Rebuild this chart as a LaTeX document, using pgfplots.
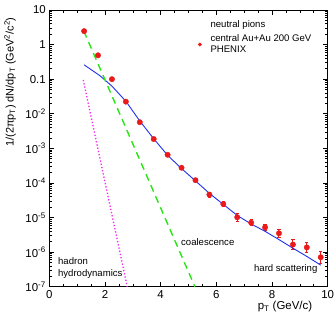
\documentclass[border=0pt]{standalone}
\usepackage{fontspec}
\setmainfont{Liberation Sans}
\usepackage{pgfplots}
\pgfplotsset{compat=1.18}
\definecolor{ptred}{RGB}{235,25,25}
\definecolor{hsblue}{RGB}{30,50,235}
\definecolor{coalgreen}{RGB}{40,230,20}
\definecolor{hydromag}{RGB}{240,40,240}
\newcommand{\anno}{\fontsize{9.6}{11.5}\selectfont}

\begin{document}
\begin{tikzpicture}
\useasboundingbox (0,0) rectangle (335bp,325bp);
\begin{axis}[at={(49.3bp,38.3bp)},anchor=south west,scale only axis,
  width=278.4bp,height=276.7bp,ymode=log,xmin=0,xmax=10,ymin=1e-7,ymax=10,
  axis line style={line width=0.8bp},tick style={black,line width=0.6bp},
  tick align=inside,xtick pos=both,ytick pos=both,
  major tick length=5bp,minor tick length=2.8bp,
  xtick={0,2,4,6,8,10},minor x tick num=3,
  ytick={1e-7,1e-6,1e-5,1e-4,1e-3,1e-2,0.1,1,10},
  yticklabels={10\textsuperscript{-7},10\textsuperscript{-6},10\textsuperscript{-5},10\textsuperscript{-4},10\textsuperscript{-3},10\textsuperscript{-2},0.1,1,10},
  /pgf/number format/assume math mode=true,
  ticklabel style={font=\fontsize{11.5}{13}\selectfont},
  legend style={at={(rel axis cs:0.506,0.975)},anchor=north west,draw=none,fill=none,
    font=\anno,cells={anchor=west,align=left},row sep=2bp,column sep=7bp,inner sep=1bp},
  legend image post style={mark size=1.7bp},
  legend cell align=left]
\addlegendimage{empty legend}
\addlegendentry{neutral pions}
% PHENIX data points
\addplot[only marks,mark=*,mark size=2.7bp,color=ptred,
  error bars/.cd,y dir=both,y explicit,
  error bar style={line width=1bp,ptred},
  error mark options={rotate=90,mark size=1.6bp,line width=1bp,ptred}]
  coordinates {
  (1.25,2.45) +- (0,0)
  (1.75,0.49) +- (0,0)
  (2.25,0.100) +- (0,0)
  (2.75,0.0224) +- (0,0)
  (3.25,0.0057) +- (0,0)
  (3.75,0.00186) +- (0,0)
  (4.25,6.5e-4) +- (0,0)
  (4.75,2.75e-4) +- (0,0)
  (5.25,1.2e-4) +- (0,0)
  (5.75,4.6e-5) += (0,8.3e-6) -= (0,7.0e-6)
  (6.25,2.45e-5) += (0,4.4e-6) -= (0,3.7e-6)
  (6.75,1.02e-5) += (0,3.1e-6) -= (0,2.4e-6)
  (7.25,7.1e-6) += (0,1.6e-6) -= (0,1.3e-6)
  (7.75,5.2e-6) += (0,1.1e-6) -= (0,0.94e-6)
  (8.25,3.5e-6) += (0,1.05e-6) -= (0,0.81e-6)
  (8.75,1.65e-6) += (0,0.64e-6) -= (0,0.46e-6)
  (9.25,1.37e-6) += (0,0.53e-6) -= (0,0.38e-6)
  (9.75,7.1e-7) += (0,3.5e-7) -= (0,2.3e-7)
  };
\addlegendentry{central Au+Au 200 GeV\\PHENIX}
% hard scattering
\addplot[forget plot,hsblue,line width=0.9bp] coordinates {
  (1.25,0.26)(1.82,0.126)(2.25,0.063)(2.75,0.023)(3.25,0.0062)(3.75,0.0019)
  (4.25,6.3e-4)(4.75,2.6e-4)(5.25,1.15e-4)(5.75,5.0e-5)(6.25,2.4e-5)
  (6.75,1.15e-5)(7.25,6.5e-6)(7.75,4.0e-6)(8.25,2.3e-6)(8.75,1.3e-6)
  (9.25,7.5e-7)(9.75,4.2e-7)};
% coalescence
\addplot[forget plot,coalgreen,line width=1.4bp,dash pattern=on 7bp off 5bp] coordinates {
  (1.24,2.45)(5.23,1e-7)};
% hadron hydrodynamics
\addplot[forget plot,hydromag,line width=1.3bp,dotted] coordinates {
  (1.22,0.095)(2.80,1e-7)};
\node[anchor=west,align=left,font=\anno,inner sep=0pt] at (axis cs:0.31,3.5e-7) {hadron\\hydrodynamics};
\node[anchor=west,font=\anno,inner sep=0pt] at (axis cs:4.73,1.9e-6) {coalescence};
\node[anchor=west,font=\anno,inner sep=0pt] at (axis cs:7.35,3.2e-7) {hard scattering};
\end{axis}
\node[font=\fontsize{11.5}{13}\selectfont] at (285bp,18bp) {p\textsubscript{T} (GeV/c)};
\node[font=\fontsize{11}{13}\selectfont,rotate=90] at (10bp,243bp) {1/(2πp\textsubscript{T}) dN/dp\textsubscript{T} (GeV\textsuperscript{2}/c\textsuperscript{2})};
\end{tikzpicture}
\end{document}
